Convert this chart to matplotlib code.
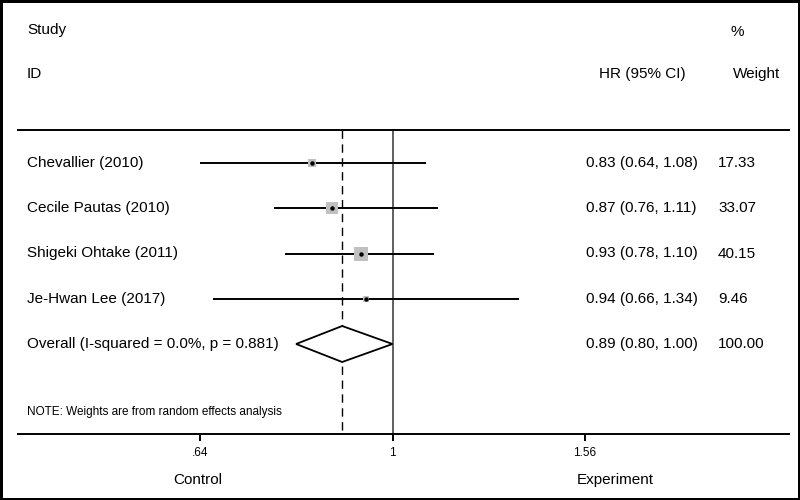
"""Forest plot: HR for four studies plus overall estimate"""

import matplotlib
matplotlib.use('Agg')
import matplotlib.pyplot as plt
import matplotlib.transforms as mtransforms
from matplotlib.patches import Polygon
import numpy as np

plt.rcParams['font.family'] = ['Liberation Sans', 'DejaVu Sans']

# данные
studies = ['Chevallier (2010)', 'Cecile Pautas (2010)',
           'Shigeki Ohtake (2011)', 'Je-Hwan Lee (2017)']
hr = [0.83, 0.87, 0.93, 0.94]
ci_lo = [0.64, 0.76, 0.78, 0.66]
ci_hi = [1.08, 1.11, 1.10, 1.34]
weights = [17.33, 33.07, 40.15, 9.46]

overall_label = 'Overall (I-squared = 0.0%, p = 0.881)'
overall_hr = 0.89
overall_lo = 0.80
overall_hi = 1.00
overall_w = 100.00

tick_vals = [0.64, 1, 1.56]
tick_labels = ['.64', '1', '1.56']

W, H = 800, 500
fig = plt.figure(figsize=(8, 5), dpi=100)
fig.patch.set_edgecolor('black')
fig.patch.set_linewidth(2.5)

# оси: от 18 до 789 px по x, от 130 до 434 px по y
ax = fig.add_axes([18 / W, 1 - 434 / H, (789 - 18) / W, (434 - 130) / H])
ax.set_xscale('log')
ax.set_xlim(np.exp((18 - 392.5) / 432), np.exp((789 - 392.5) / 432))
row_px = 45.25
ax.set_ylim((434 - 163) / row_px, (130 - 163) / row_px)

ax.spines['left'].set_visible(False)
ax.spines['right'].set_visible(False)
ax.spines['top'].set_linewidth(1.4)
ax.spines['bottom'].set_linewidth(1.4)
ax.set_yticks([])
ax.set_xticks(tick_vals)
ax.set_xticklabels(tick_labels)
ax.xaxis.set_minor_locator(matplotlib.ticker.NullLocator())
ax.tick_params(axis='x', length=5, width=1.4, pad=4, labelsize=8.5)

rows = np.arange(len(studies))

# линии отсчёта
ax.axvline(1, color='#444444', linewidth=1.2)
ax.axvline(overall_hr, ymin=0.013, color='black', linewidth=1.0,
           linestyle=(0, (6, 4)))

# доверительные интервалы и квадраты
ax.hlines(rows, ci_lo, ci_hi, color='black', linewidth=1.4)
for r, est, w in zip(rows, hr, weights):
    ax.plot(est, r, marker='s', markersize=1.48 * np.sqrt(w),
            color='#c0c0c0', markeredgewidth=0, linestyle='none')
    ax.plot(est, r, marker='o', markersize=2.2, color='black',
            linestyle='none')

# ромб общей оценки
r_ov = len(studies)
h = 18 / row_px
diamond = Polygon([(overall_lo, r_ov), (overall_hr, r_ov - h),
                   (overall_hi, r_ov), (overall_hr, r_ov + h)],
                  closed=True, facecolor='white', edgecolor='black',
                  linewidth=1.3, zorder=3)
ax.add_patch(diamond)

# текстовые колонки
trans = mtransforms.blended_transform_factory(fig.transFigure, ax.transData)
labels = studies + [overall_label]
hr_txt = ['%.2f (%.2f, %.2f)' % v for v in zip(hr, ci_lo, ci_hi)]
hr_txt.append('%.2f (%.2f, %.2f)' % (overall_hr, overall_lo, overall_hi))
w_txt = ['%.2f' % w for w in weights] + ['%.2f' % overall_w]
for r, lab, t1, t2 in zip(range(len(labels)), labels, hr_txt, w_txt):
    ax.text(27 / W, r, lab, transform=trans, va='center', ha='left',
            fontsize=11)
    ax.text(586 / W, r, t1, transform=trans, va='center', ha='left',
            fontsize=11)
    ax.text(718 / W, r, t2, transform=trans, va='center', ha='left',
            fontsize=11)

# заголовки
fig.text(27 / W, 1 - 30 / H, 'Study', va='center', ha='left', fontsize=11)
fig.text(27 / W, 1 - 74 / H, 'ID', va='center', ha='left', fontsize=11)
fig.text(686 / W, 1 - 74 / H, 'HR (95% CI)', va='center', ha='right',
         fontsize=11)
fig.text(737 / W, 1 - 32 / H, '%', va='center', ha='center', fontsize=11)
fig.text(733 / W, 1 - 74 / H, 'Weight', va='center', ha='left', fontsize=11)

fig.text(27 / W, 1 - 412 / H, 'NOTE: Weights are from random effects analysis',
         va='center', ha='left', fontsize=8.5)
fig.text(198 / W, 1 - 480 / H, 'Control', va='center', ha='center',
         fontsize=11)
fig.text(615 / W, 1 - 480 / H, 'Experiment', va='center', ha='center',
         fontsize=11)

fig.savefig('out.png', dpi=100, edgecolor=fig.get_edgecolor())
